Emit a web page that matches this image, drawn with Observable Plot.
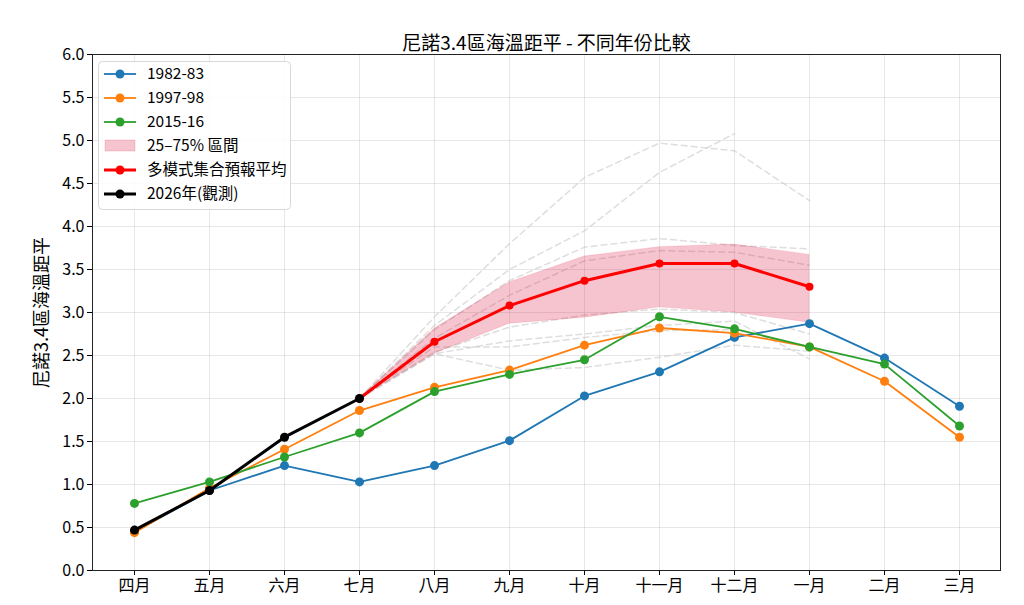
<!DOCTYPE html>
<html>
<head>
<meta charset="utf-8">
<script src="https://cdn.jsdelivr.net/npm/d3@7"></script>
<script src="https://cdn.jsdelivr.net/npm/@observablehq/plot@0.6"></script>
<style>
  body { margin: 0; background: #fff; }
</style>
</head>
<body>
<div id="chart"></div>
<script>
// Months of the ENSO year, April to March
const months = ["四月", "五月", "六月", "七月", "八月", "九月", "十月", "十一月", "十二月", "一月", "二月", "三月"];

// Historical strong El Niño years (Niño 3.4 anomaly, °C)
const y1982 = [0.45, 0.93, 1.22, 1.03, 1.22, 1.51, 2.03, 2.31, 2.71, 2.87, 2.47, 1.91];
const y1997 = [0.44, 0.96, 1.41, 1.86, 2.13, 2.33, 2.62, 2.82, 2.76, 2.60, 2.20, 1.55];
const y2015 = [0.78, 1.03, 1.32, 1.60, 2.08, 2.28, 2.45, 2.95, 2.81, 2.60, 2.40, 1.68];

// Observations so far this year
const observedMonths = ["四月", "五月", "六月", "七月"];
const observed = [0.47, 0.93, 1.55, 2.00];

// Forecast period, July to January
const forecastMonths = ["七月", "八月", "九月", "十月", "十一月", "十二月", "一月"];
const ensembleMean = [2.00, 2.66, 3.08, 3.37, 3.57, 3.57, 3.30];
const bandLow  = [2.00, 2.52, 2.87, 2.94, 3.06, 3.00, 2.88];
const bandHigh = [2.00, 2.81, 3.35, 3.65, 3.76, 3.79, 3.67];

// Individual model runs (null = no value)
const modelA = [2.00, 2.95, 3.80, 4.57, 4.97, 4.88, 4.30];
const modelB = [2.00, 2.85, 3.50, 3.95, 4.63, 5.08, null];
const modelC = [2.00, 2.80, 3.37, 3.76, 3.86, 3.78, 3.74];
const modelD = [2.00, 2.70, 3.20, 3.60, 3.72, 3.70, 3.55];
const modelE = [2.00, 2.54, 2.83, 2.97, 3.04, 3.00, 2.75];
const modelF = [2.00, 2.52, 2.67, 2.75, 2.85, 2.90, 2.46];
const modelG = [2.00, 2.52, 2.33, 2.36, 2.48, 2.62, 2.55];
const modelH = [2.00, 2.60, 2.60, 2.71, 2.79, 2.80, 2.60];
const models = [modelA, modelB, modelC, modelD, modelE, modelF, modelG, modelH];

const yTicks = [0, 0.5, 1, 1.5, 2, 2.5, 3, 3.5, 4, 4.5, 5, 5.5, 6];

const historical = [
  {name: "1982-83", values: y1982, color: "#1f77b4"},
  {name: "1997-98", values: y1997, color: "#ff7f0e"},
  {name: "2015-16", values: y2015, color: "#2ca02c"}
];

const fontFamily = '"Noto Sans CJK TC", "Noto Sans", sans-serif';

const modelRows = models.flatMap((vals, k) =>
  vals.map((v, i) => ({model: k, month: forecastMonths[i], value: v})).filter(d => d.value != null));
const bandRows = forecastMonths.map((m, i) => ({month: m, low: bandLow[i], high: bandHigh[i]}));
const meanRows = forecastMonths.map((m, i) => ({month: m, value: ensembleMean[i]}));
const obsRows = observedMonths.map((m, i) => ({month: m, value: observed[i]}));

const histMarks = historical.flatMap(s => {
  const rows = months.map((m, i) => ({month: m, value: s.values[i]}));
  return [
    Plot.line(rows, {x: "month", y: "value", stroke: s.color, strokeWidth: 1.8}),
    Plot.dot(rows, {x: "month", y: "value", fill: s.color, r: 4.5})
  ];
});

const chart = Plot.plot({
  width: 1024,
  height: 605,
  marginLeft: 92,
  marginRight: 24,
  marginTop: 54,
  marginBottom: 35,
  style: {fontSize: "16px", fontFamily, background: "#fff", color: "#000"},
  x: {type: "point", domain: months, padding: 0.55},
  y: {domain: [0, 6]},
  marks: [
    Plot.gridY(yTicks, {stroke: "#b0b0b0", strokeOpacity: 0.3}),
    Plot.gridX(months, {stroke: "#b0b0b0", strokeOpacity: 0.3}),
    Plot.line(modelRows, {x: "month", y: "value", z: "model", stroke: "#c8c8c8", strokeOpacity: 0.6,
      strokeWidth: 1.5, strokeDasharray: "6,4"}),
    Plot.areaY(bandRows, {x: "month", y1: "low", y2: "high", fill: "crimson", fillOpacity: 0.25,
      stroke: "crimson", strokeOpacity: 0.12}),
    ...histMarks,
    Plot.line(meanRows, {x: "month", y: "value", stroke: "#ff0000", strokeWidth: 3}),
    Plot.dot(meanRows, {x: "month", y: "value", fill: "#ff0000", r: 4}),
    Plot.line(obsRows, {x: "month", y: "value", stroke: "#000", strokeWidth: 3}),
    Plot.dot(obsRows, {x: "month", y: "value", fill: "#000", r: 4.5}),
    Plot.axisX({tickSize: 5, tickPadding: 4, fontSize: 16, label: null}),
    Plot.axisY({ticks: yTicks, tickFormat: d => d.toFixed(1), tickSize: 5, tickPadding: 3, fontSize: 16,
      label: null}),
    Plot.text(["尼諾3.4區海溫距平"], {frameAnchor: "left", textAnchor: "middle", dx: -50, rotate: -90, fontSize: 18}),
    Plot.text(["尼諾3.4區海溫距平 - 不同年份比較"], {frameAnchor: "top", dy: -18, fontSize: 19}),
    Plot.frame({stroke: "#222", strokeWidth: 1})
  ]
});

document.getElementById("chart").appendChild(chart);

// Legend box in the upper-left corner of the plot area
const svg = d3.select(chart);
const lg = svg.append("g").attr("font-size", 15.5).attr("font-family", fontFamily).attr("text-anchor", "start");
lg.append("rect").attr("x", 98.5).attr("y", 61.5).attr("width", 192).attr("height", 148)
  .attr("rx", 4).attr("fill", "#fff").attr("fill-opacity", 0.85).attr("stroke", "#d8d8d8");
const legendItems = [
  {label: "1982-83", color: "#1f77b4", kind: "line", w: 1.8},
  {label: "1997-98", color: "#ff7f0e", kind: "line", w: 1.8},
  {label: "2015-16", color: "#2ca02c", kind: "line", w: 1.8},
  {label: "25–75% 區間", color: "crimson", kind: "patch"},
  {label: "多模式集合預報平均", color: "#ff0000", kind: "line", w: 3},
  {label: "2026年(觀測)", color: "#000", kind: "line", w: 3}
];
legendItems.forEach((it, i) => {
  const cy = 74 + i * 24;
  if (it.kind === "patch") {
    lg.append("rect").attr("x", 105).attr("y", cy - 6).attr("width", 30).attr("height", 11)
      .attr("fill", it.color).attr("fill-opacity", 0.25).attr("stroke", it.color).attr("stroke-opacity", 0.15);
  } else {
    lg.append("line").attr("x1", 104).attr("x2", 136).attr("y1", cy).attr("y2", cy)
      .attr("stroke", it.color).attr("stroke-width", it.w);
    lg.append("circle").attr("cx", 120).attr("cy", cy).attr("r", 4.5).attr("fill", it.color);
  }
  lg.append("text").attr("x", 147).attr("y", cy).attr("dy", "0.35em").attr("fill", "#000")
    .attr("text-anchor", "start").text(it.label);
});
</script>
</body>
</html>
